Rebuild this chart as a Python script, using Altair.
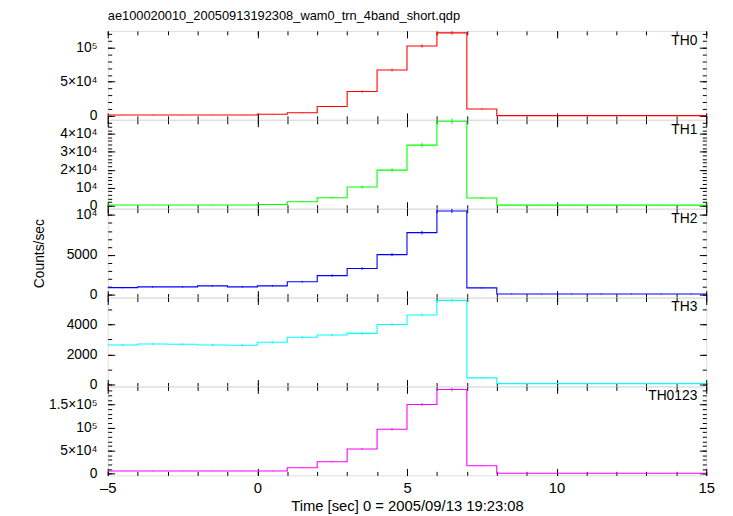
import altair as alt
import pandas as pd

# ---------------- data ----------------
bin_edges = list(range(-5, 16))          # 21 edges, 20 one-second bins
bin_centers = [e + 0.5 for e in range(-5, 15)]

names = ["TH0", "TH1", "TH2", "TH3", "TH0123"]
colors = ["#ff0000", "#00ff00", "#0000ff", "#00ffff", "#ff00ff"]

th0 = [1200, 1250, 1200, 1300, 1250, 2300, 4700, 13700, 35700, 67100,
       102300, 121400, 10000, 400, 400, 400, 400, 400, 400, 400]
th0_err = [300, 300, 300, 300, 300, 400, 600, 1000, 1600, 2000,
           2400, 2500, 900, 200, 200, 200, 200, 200, 200, 200]

th1 = [350, 350, 350, 350, 350, 700, 2200, 4400, 10400, 19800,
       33700, 47000, 4300, 300, 300, 300, 300, 300, 300, 300]
th1_err = [200, 200, 200, 200, 200, 250, 400, 500, 800, 1000,
           1300, 1500, 500, 150, 150, 150, 150, 150, 150, 150]

th2 = [910, 1000, 1000, 1120, 1000, 1120, 1640, 2410, 3290, 5040,
       7790, 10500, 870, 100, 100, 100, 100, 100, 100, 100]
th2_err = [90, 90, 90, 90, 90, 100, 110, 140, 160, 190,
           220, 260, 80, 50, 50, 50, 50, 50, 50, 50]

th3 = [2640, 2700, 2680, 2640, 2620, 2820, 3150, 3300, 3410, 4000,
       4640, 5610, 440, 60, 60, 60, 60, 60, 60, 60]
th3_err = [80, 80, 80, 80, 80, 85, 90, 90, 95, 100,
           110, 120, 40, 20, 20, 20, 20, 20, 20, 20]

th0123 = [5600, 5600, 5600, 5600, 5600, 5800, 12900, 25800, 53600, 96600,
          150200, 183000, 17200, 1000, 1000, 1000, 1000, 1000, 1000, 1000]
th0123_err = [500, 500, 500, 500, 500, 550, 900, 1300, 2000, 2700,
              3300, 3600, 1100, 300, 300, 300, 300, 300, 300, 300]

series = [th0, th1, th2, th3, th0123]
errors = [th0_err, th1_err, th2_err, th3_err, th0123_err]

y_domains = [[-5700, 124300], [-1670, 47800], [-340, 10790],
             [-130, 5800], [-3650, 189500]]
y_major = [[0, 50000, 100000],
           [0, 10000, 20000, 30000, 40000],
           [0, 5000, 10000],
           [0, 2000, 4000],
           [0, 50000, 100000, 150000]]
y_major_labels = [["0", "5×10⁴", "10⁵"],
                  ["0", "10⁴", "2×10⁴", "3×10⁴", "4×10⁴"],
                  ["0", "5000", "10⁴"],
                  ["0", "2000", "4000"],
                  ["0", "5×10⁴", "10⁵", "1.5×10⁵"]]
y_minor = [list(range(0, 124001, 10000)),
           list(range(0, 47001, 2000)),
           list(range(0, 10001, 1000)),
           list(range(0, 5001, 1000)),
           list(range(0, 189001, 10000))]

x_major = [-5, 0, 5, 10, 15]
x_minor = list(range(-5, 16))

title_text = "ae100020010_20050913192308_wam0_trn_4band_short.qdp"
x_title = "Time [sec] 0 = 2005/09/13 19:23:08"
y_title = "Counts/sec"

FONT = "Liberation Sans"
W, H = 606, 90
MAJ, MIN = 7, 4


def label_expr(vals, labs):
    expr = "''"
    for v, l in reversed(list(zip(vals, labs))):
        expr = f"datum.value == {v} ? '{l}' : " + expr
    return expr


def make_panel(i):
    vals = series[i]
    errs = errors[i]
    color = colors[i]
    last = i == len(series) - 1

    line_df = pd.DataFrame({"t": bin_edges, "v": vals + [vals[-1]]})
    err_df = pd.DataFrame({
        "tc": bin_centers,
        "lo": [v - e for v, e in zip(vals, errs)],
        "hi": [v + e for v, e in zip(vals, errs)],
    })

    xs = alt.Scale(domain=[-5, 15], nice=False, zero=False)
    ys = alt.Scale(domain=y_domains[i], nice=False, zero=False)

    common = dict(grid=False, domain=False, tickColor="black", tickWidth=1)

    if last:
        ax_b_major = alt.Axis(orient="bottom", values=x_major, tickSize=MAJ, offset=-MAJ,
                              labels=True, labelFontSize=15, labelFont=FONT, labelColor="black",
                              labelPadding=5, labelFlush=False, labelOverlap=False,
                              labelExpr="datum.value < 0 ? '–' + abs(datum.value) : datum.value",
                              title=x_title, titleFontSize=15, titleFont=FONT,
                              titleFontWeight="normal", titleColor="black", titlePadding=4,
                              **common)
    else:
        ax_b_major = alt.Axis(orient="bottom", values=x_major, tickSize=MAJ, offset=-MAJ,
                              labels=False, title=None, **common)
    ax_b_minor = alt.Axis(orient="bottom", values=x_minor, tickSize=MIN, offset=-MIN,
                          labels=False, title=None, **common)
    ax_t_major = alt.Axis(orient="top", values=x_major, tickSize=MAJ, offset=-MAJ,
                          labels=False, title=None, **common)
    ax_t_minor = alt.Axis(orient="top", values=x_minor, tickSize=MIN, offset=-MIN,
                          labels=False, title=None, **common)

    ax_l_major = alt.Axis(orient="left", values=y_major[i], tickSize=MAJ, offset=-MAJ,
                          labelExpr=label_expr(y_major[i], y_major_labels[i]),
                          labelFontSize=14, labelFont=FONT, labelColor="black",
                          labelPadding=11, labelOverlap=False, labelFlush=False,
                          minExtent=55, maxExtent=55,
                          title=y_title if i == 2 else None,
                          titleFontSize=14, titleFont=FONT, titleFontWeight="normal",
                          titleColor="black", titlePadding=14,
                          **common)
    ax_l_minor = alt.Axis(orient="left", values=y_minor[i], tickSize=MIN, offset=-MIN,
                          labels=False, title=None, **common)
    ax_r_major = alt.Axis(orient="right", values=y_major[i], tickSize=MAJ, offset=-MAJ,
                          labels=False, title=None, **common)
    ax_r_minor = alt.Axis(orient="right", values=y_minor[i], tickSize=MIN, offset=-MIN,
                          labels=False, title=None, **common)

    step = alt.Chart(line_df).mark_line(
        interpolate="step-after", color=color, strokeWidth=1.1
    ).encode(
        x=alt.X("t:Q", scale=xs, axis=ax_b_major),
        y=alt.Y("v:Q", scale=ys, axis=ax_l_major),
    )
    ebars = alt.Chart(err_df).mark_rule(color=color, strokeWidth=1).encode(
        x=alt.X("tc:Q", scale=xs, axis=ax_b_minor),
        y=alt.Y("lo:Q", scale=ys, axis=ax_l_minor),
        y2="hi:Q",
    )
    ghost1 = alt.Chart(line_df).mark_point(opacity=0).encode(
        x=alt.X("t:Q", scale=xs, axis=ax_t_major),
        y=alt.Y("v:Q", scale=ys, axis=ax_r_major),
    )
    ghost2 = alt.Chart(line_df).mark_point(opacity=0).encode(
        x=alt.X("t:Q", scale=xs, axis=ax_t_minor),
        y=alt.Y("v:Q", scale=ys, axis=ax_r_minor),
    )
    tag = alt.Chart(pd.DataFrame({"name": [names[i]]})).mark_text(
        align="right", baseline="top", fontSize=14, font=FONT, color="black"
    ).encode(text="name:N", x=alt.value(W - 9), y=alt.value(3))

    layer = alt.layer(step, ebars, ghost1, ghost2, tag).resolve_axis(
        x="independent", y="independent"
    ).properties(width=W, height=H)

    if i == 0:
        layer = layer.properties(title=alt.TitleParams(
            title_text, anchor="start", frame="group", fontSize=13, font=FONT,
            fontWeight="normal", color="black", offset=7))
    return layer


panels = [make_panel(i) for i in range(len(series))]

chart = alt.vconcat(*panels, spacing=0, bounds="flush").resolve_scale(
    x="independent", y="independent"
).properties(
    padding={"left": 24, "top": -2, "right": 10, "bottom": 0}
).configure_view(
    stroke="black", strokeWidth=1
).configure(
    background="white"
)

chart.save("out.html", embed_options={"renderer": "svg", "actions": False})
